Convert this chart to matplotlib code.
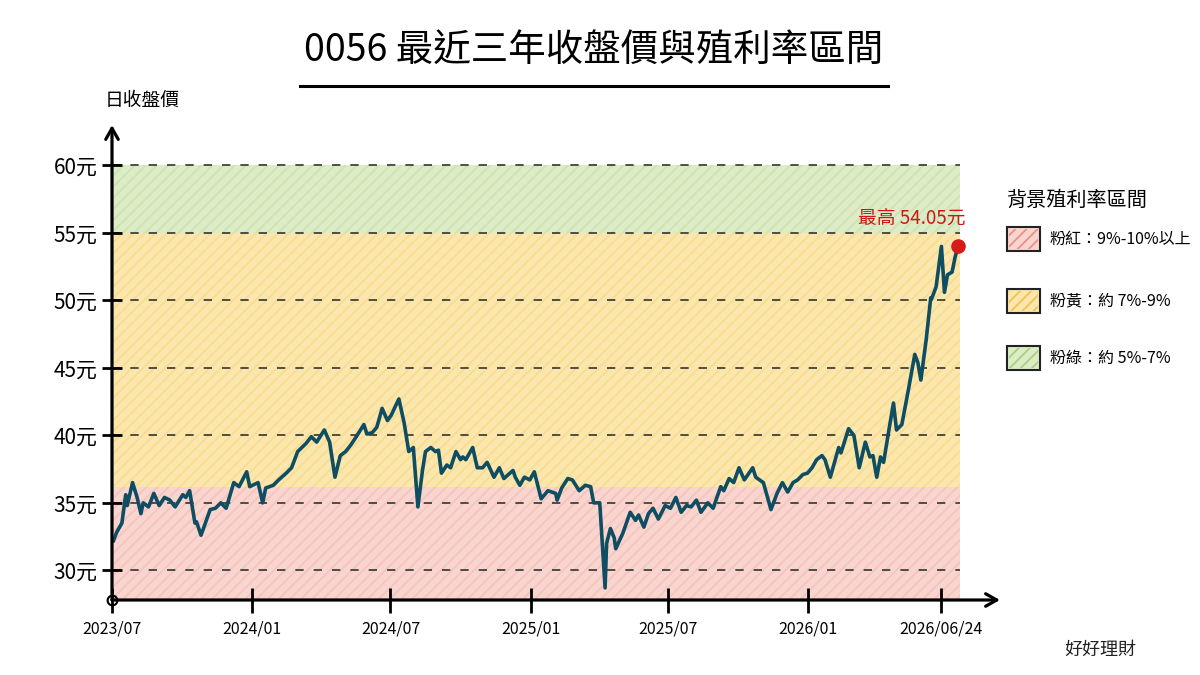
import matplotlib
matplotlib.use("Agg")
import matplotlib.pyplot as plt
from matplotlib.patches import Rectangle
from matplotlib.lines import Line2D
import pandas as pd

plt.rcParams['font.family'] = ['Noto Sans CJK TC', 'DejaVu Sans']
plt.rcParams['hatch.linewidth'] = 1.3

# 0056 closing price
dates = [
    "2023-07-03", "2023-07-07", "2023-07-14", "2023-07-19", "2023-07-21", "2023-07-28",
    "2023-08-03", "2023-08-08", "2023-08-11", "2023-08-18", "2023-08-25", "2023-09-01",
    "2023-09-08", "2023-09-15", "2023-09-22", "2023-10-02", "2023-10-06", "2023-10-11",
    "2023-10-18", "2023-10-20", "2023-10-26", "2023-11-07", "2023-11-14", "2023-11-21",
    "2023-11-28", "2023-12-08", "2023-12-15", "2023-12-25", "2023-12-29", "2024-01-09",
    "2024-01-15", "2024-01-19", "2024-01-29", "2024-02-05", "2024-02-15", "2024-02-22",
    "2024-03-01", "2024-03-12", "2024-03-19", "2024-03-26", "2024-04-05", "2024-04-12",
    "2024-04-19", "2024-04-26", "2024-05-03", "2024-05-10", "2024-05-17", "2024-05-27",
    "2024-05-31", "2024-06-07", "2024-06-13", "2024-06-20", "2024-06-27", "2024-07-02",
    "2024-07-12", "2024-07-19", "2024-07-25", "2024-07-31", "2024-08-06", "2024-08-12",
    "2024-08-16", "2024-08-23", "2024-08-29", "2024-09-02", "2024-09-06", "2024-09-13",
    "2024-09-18", "2024-09-25", "2024-10-01", "2024-10-04", "2024-10-08", "2024-10-17",
    "2024-10-23", "2024-10-30", "2024-11-05", "2024-11-14", "2024-11-21", "2024-11-27",
    "2024-12-09", "2024-12-12", "2024-12-18", "2024-12-24", "2024-12-31", "2025-01-06",
    "2025-01-15", "2025-01-24", "2025-02-03", "2025-02-05", "2025-02-11", "2025-02-19",
    "2025-02-25", "2025-03-06", "2025-03-14", "2025-03-21", "2025-03-25", "2025-04-02",
    "2025-04-09", "2025-04-11", "2025-04-16", "2025-04-21", "2025-04-23", "2025-05-02",
    "2025-05-12", "2025-05-19", "2025-05-23", "2025-05-30", "2025-06-05", "2025-06-11",
    "2025-06-18", "2025-06-27", "2025-07-04", "2025-07-11", "2025-07-18", "2025-07-25",
    "2025-07-31", "2025-08-07", "2025-08-13", "2025-08-22", "2025-08-29", "2025-09-08",
    "2025-09-12", "2025-09-19", "2025-09-25", "2025-10-02", "2025-10-09", "2025-10-20",
    "2025-10-24", "2025-11-03", "2025-11-13", "2025-11-21", "2025-11-28", "2025-12-05",
    "2025-12-12", "2025-12-18", "2025-12-25", "2025-12-31", "2026-01-06", "2026-01-12",
    "2026-01-19", "2026-01-23", "2026-01-30", "2026-02-10", "2026-02-13", "2026-02-23",
    "2026-03-02", "2026-03-09", "2026-03-17", "2026-03-23", "2026-03-27", "2026-04-01",
    "2026-04-06", "2026-04-10", "2026-04-17", "2026-04-23", "2026-04-27", "2026-05-04",
    "2026-05-13", "2026-05-21", "2026-05-25", "2026-05-29", "2026-06-05", "2026-06-11",
    "2026-06-12", "2026-06-18", "2026-06-25", "2026-06-29", "2026-07-03", "2026-07-09",
    "2026-07-13", "2026-07-17",
]
prices = [
    32.2, 32.8, 33.5, 35.6, 34.8, 36.5,
    35.4, 34.2, 35.0, 34.7, 35.7, 34.8,
    35.4, 35.2, 34.7, 35.6, 35.4, 35.9,
    33.5, 33.6, 32.6, 34.5, 34.6, 35.0,
    34.6, 36.5, 36.2, 37.3, 36.2, 36.5,
    35.0, 36.1, 36.3, 36.7, 37.2, 37.6,
    38.8, 39.4, 39.9, 39.5, 40.4, 39.5,
    36.9, 38.5, 38.8, 39.3, 39.9, 40.8,
    40.1, 40.2, 40.6, 42.0, 41.1, 41.5,
    42.7, 40.9, 38.8, 39.1, 34.7, 37.4,
    38.8, 39.1, 38.8, 38.9, 37.2, 37.8,
    37.6, 38.8, 38.2, 38.4, 38.2, 39.1,
    37.6, 37.6, 38.0, 36.9, 37.6, 36.8,
    37.4, 36.9, 36.3, 36.9, 36.7, 37.3,
    35.3, 35.9, 35.7, 35.2, 36.1, 36.8,
    36.7, 35.9, 36.3, 36.2, 35.0, 35.0,
    28.7, 32.0, 33.1, 32.4, 31.6, 32.7,
    34.3, 33.7, 34.1, 33.2, 34.2, 34.6,
    33.8, 34.8, 34.6, 35.4, 34.3, 34.8,
    34.7, 35.2, 34.3, 35.0, 34.6, 36.2,
    35.9, 36.8, 36.5, 37.6, 36.7, 37.6,
    36.9, 36.5, 34.5, 35.7, 36.5, 35.8,
    36.5, 36.7, 37.1, 37.2, 37.6, 38.2,
    38.5, 38.2, 36.9, 39.1, 38.7, 40.5,
    40.0, 37.6, 39.5, 38.4, 38.5, 36.9,
    38.4, 38.0, 40.4, 42.4, 40.4, 40.8,
    43.5, 46.0, 45.4, 44.1, 47.1, 50.2,
    50.1, 51.0, 54.0, 50.6, 51.9, 52.1,
    53.2, 54.05,
]

yticks = [30, 35, 40, 45, 50, 55, 60]
xtick_dates = ["2023-07-01", "2024-01-01", "2024-07-01", "2025-01-01",
               "2025-07-01", "2026-01-01", "2026-06-24"]
xtick_labels = ["2023/07", "2024/01", "2024/07", "2025/01",
                "2025/07", "2026/01", "2026/06/24"]

# yield bands: (low, high, fill, hatch colour, legend label)
band_lows = [27.8, 36.2, 55]
band_highs = [36.2, 55, 60]
band_colors = ["#f9d5cf", "#fbe7ae", "#dcecc6"]
band_hatch = ["#f6c4bc", "#f8dc8e", "#cde3b0"]
box_hatch = ["#ee8f86", "#f3c24f", "#a9cf7e"]
band_labels = ["粉紅：9%-10%以上", "粉黃：約 7%-9%", "粉綠：約 5%-7%"]

x = pd.to_datetime(dates)
x_start = pd.Timestamp("2023-07-01")
x_end = pd.Timestamp("2026-09-10")
band_end = pd.Timestamp("2026-07-19")

fig = plt.figure(figsize=(12, 6.75), dpi=100)
ax = fig.add_axes([112 / 1200, 1 - 600 / 675, 888 / 1200, 475 / 675])

for lo, hi, c, hc in zip(band_lows, band_highs, band_colors, band_hatch):
    ax.fill_between([x_start, band_end], lo, hi, color=c, lw=0, zorder=0)
    ax.fill_between([x_start, band_end], lo, hi, facecolor="none", edgecolor=hc,
                    hatch="///", lw=0, zorder=0.5)

ax.hlines(yticks, x_start, band_end, colors="#333333", linestyles=(0, (5, 6)),
          lw=1.2, zorder=1)

ax.plot(x, prices, color="#0e4d62", lw=2.6, solid_joinstyle="round", zorder=3)
ax.scatter([x[-1]], [prices[-1]], s=90, color="#d71a1a", zorder=4)
ax.annotate(f"最高 {prices[-1]:.2f}元", xy=(x[-1], prices[-1]), xytext=(5, 12),
            textcoords="offset points", ha="right", va="bottom",
            color="#d01515", fontsize=13.5)

ax.set_xlim(x_start, x_end)
ax.set_ylim(27.8, 63)
for s in ax.spines.values():
    s.set_visible(False)
ax.patch.set_alpha(0)

ax.set_yticks(yticks)
ax.set_yticklabels([f"{v}元" for v in yticks])
ax.set_xticks(pd.to_datetime(xtick_dates))
ax.set_xticklabels(xtick_labels)
ax.tick_params(axis="y", direction="inout", length=15, width=2, labelsize=15, pad=3)
ax.tick_params(axis="x", direction="inout", length=18, width=2, labelsize=11.5, pad=6)

# hand drawn axis arrows
arrow = dict(arrowstyle="->,head_length=0.8,head_width=0.45", lw=2.3, color="black",
             shrinkA=0, shrinkB=0)
ax.annotate("", xy=(1.0, 0), xytext=(0, 0), xycoords="axes fraction", arrowprops=arrow)
ax.annotate("", xy=(0, 1.0), xytext=(0, 0), xycoords="axes fraction", arrowprops=arrow)
ax.plot([0], [0], "o", ms=7, mfc="none", mec="black", mew=1.5,
        transform=ax.transAxes, clip_on=False)

fig.text(142 / 1200, 1 - 100 / 675, "日收盤價", ha="center", va="center", fontsize=13.5)

fig.text(594 / 1200, 1 - 50 / 675, "0056 最近三年收盤價與殖利率區間",
         ha="center", va="center", fontsize=27)
fig.add_artist(Line2D([300 / 1200, 888 / 1200], [1 - 86 / 675] * 2, color="black", lw=2.2))

# legend
fig.text(1007 / 1200, 1 - 200 / 675, "背景殖利率區間", ha="left", va="center", fontsize=14.5)
box_y = [239, 301, 358]
for yy, c, hc, lab in zip(box_y, band_colors, box_hatch, band_labels):
    fig.add_artist(Rectangle((1007 / 1200, 1 - (yy + 12) / 675), 33 / 1200, 24 / 675,
                             facecolor=c, edgecolor="#222222", lw=1.5,
                             transform=fig.transFigure))
    fig.add_artist(Rectangle((1009 / 1200, 1 - (yy + 10) / 675), 29 / 1200, 20 / 675,
                             facecolor="none", edgecolor=hc, hatch="///", lw=0,
                             transform=fig.transFigure))
    fig.text(1050 / 1200, 1 - yy / 675, lab, ha="left", va="center", fontsize=11.5)

fig.text(1100 / 1200, 1 - 650 / 675, "好好理財", ha="center", va="center",
         fontsize=13, color="#222222")

fig.savefig("out.png", dpi=100)
